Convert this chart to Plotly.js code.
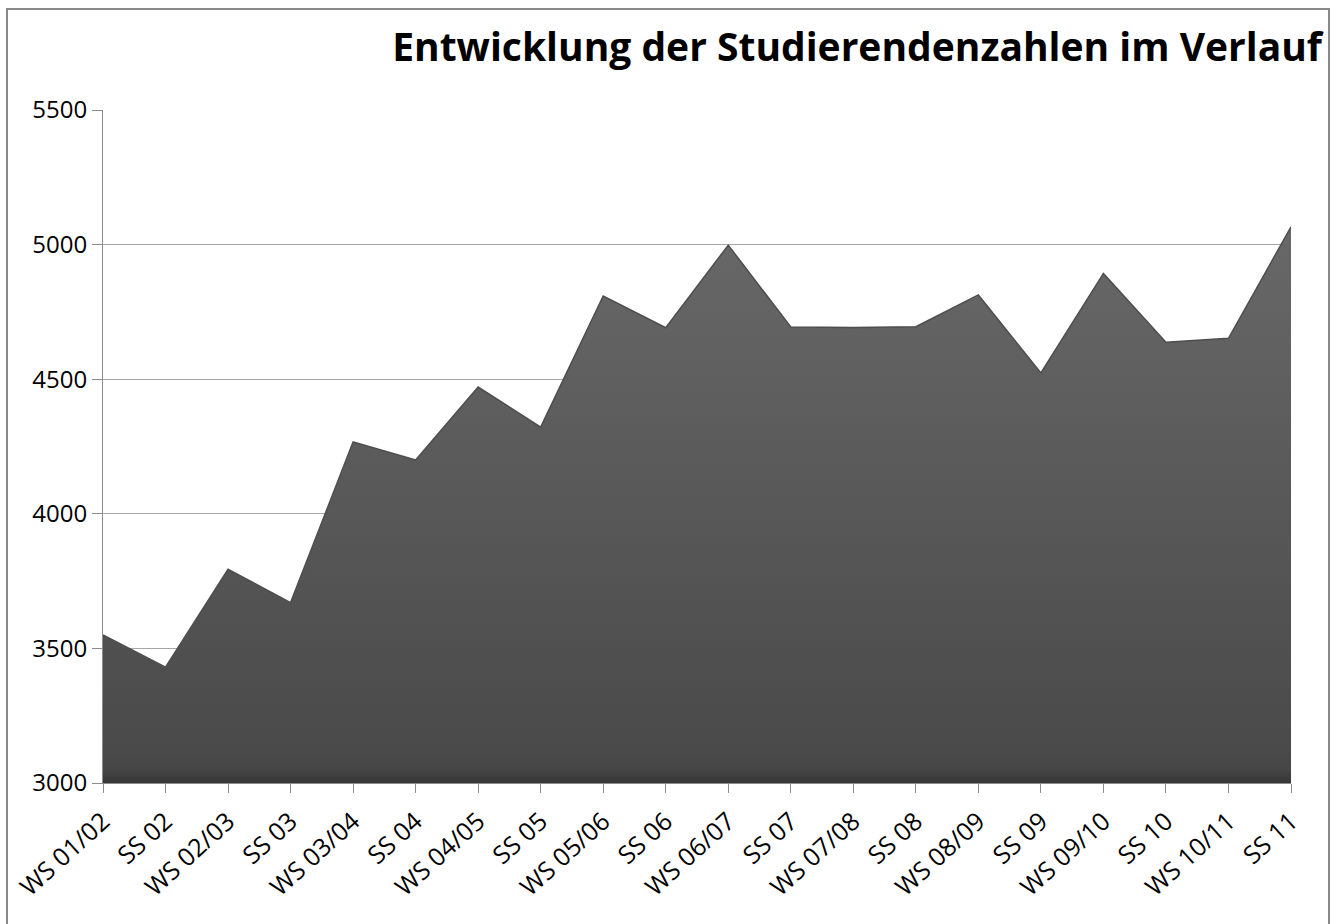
<!DOCTYPE html>
<html>
<head>
<meta charset="utf-8">
<script src="https://cdn.plot.ly/plotly-3.0.1.min.js"></script>
<style>
  html, body { margin: 0; padding: 0; background: #ffffff; }
  #chart { width: 1338px; height: 924px; }
</style>
</head>
<body>
<div id="chart"></div>
<script>
const chartTitle = "Entwicklung der Studierendenzahlen im Verlauf";
const categories = ["WS 01/02", "SS 02", "WS 02/03", "SS 03", "WS 03/04", "SS 04", "WS 04/05", "SS 05",
  "WS 05/06", "SS 06", "WS 06/07", "SS 07", "WS 07/08", "SS 08", "WS 08/09", "SS 09",
  "WS 09/10", "SS 10", "WS 10/11", "SS 11"];
const students = [3550, 3430, 3794, 3670, 4267, 4200, 4471, 4322,
  4809, 4691, 4998, 4694, 4692, 4695, 4813, 4523,
  4893, 4637, 4652, 5066];
const yTicks = [3000, 3500, 4000, 4500, 5000, 5500];

const trace = {
  type: "scatter",
  mode: "lines",
  x: categories,
  y: students,
  fill: "tozeroy",
  fillgradient: {
    type: "vertical",
    start: 3000,
    stop: 5070,
    colorscale: [[0, "#363636"], [0.025, "#464646"], [0.06, "#4a4a4a"], [1, "#686868"]]
  },
  line: { color: "#4e4e4e", width: 1.5 },
  hoverinfo: "skip"
};

const fontFam = "'Open Sans', 'Noto Sans', sans-serif";
const layout = {
  width: 1338,
  height: 924,
  margin: { l: 103, r: 47, t: 110, b: 141 },
  paper_bgcolor: "#ffffff",
  plot_bgcolor: "#ffffff",
  showlegend: false,
  title: {
    text: "<b>" + chartTitle + "</b>",
    font: { family: fontFam, size: 39, color: "#000000" },
    xref: "container", yref: "container",
    x: 0.988, xanchor: "right",
    y: 0.949, yanchor: "middle"
  },
  xaxis: {
    type: "category",
    range: [0, categories.length - 1],
    showgrid: false,
    showline: true,
    linecolor: "#8c8c8c",
    linewidth: 1,
    ticks: "outside",
    ticklen: 9,
    tickcolor: "#8c8c8c",
    tickangle: -42,
    ticklabelstandoff: 4,
    tickfont: { family: fontFam, size: 25, color: "#000000" },
    fixedrange: true
  },
  yaxis: {
    range: [3000, 5500],
    tickvals: yTicks,
    ticktext: yTicks.map(String),
    showgrid: true,
    gridcolor: "#a6a6a6",
    gridwidth: 1,
    zeroline: false,
    showline: true,
    linecolor: "#8c8c8c",
    linewidth: 1,
    ticks: "outside",
    ticklen: 10,
    tickcolor: "#8c8c8c",
    tickfont: { family: fontFam, size: 24, color: "#000000" },
    fixedrange: true
  },
  shapes: [{
    type: "rect",
    xref: "paper", yref: "paper",
    x0: (7 - 103) / 1188, x1: (1329 - 103) / 1188,
    y0: (783 - 935) / 673, y1: (783 - 9) / 673,
    line: { color: "#8a8a8a", width: 2 },
    fillcolor: "rgba(0,0,0,0)",
    layer: "above"
  }]
};

Plotly.newPlot("chart", [trace], layout, { displayModeBar: false, staticPlot: true });
</script>
</body>
</html>
